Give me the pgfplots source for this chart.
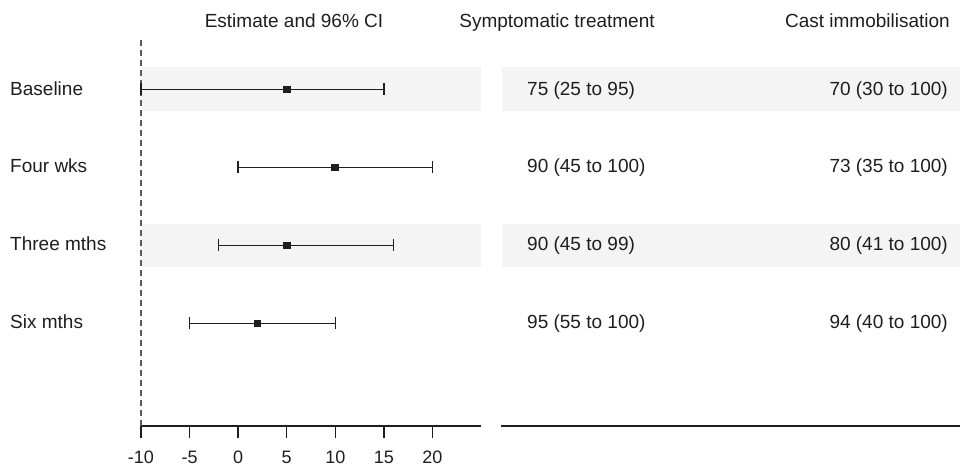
\documentclass[border=0pt]{standalone}
\usepackage{pgfplots}
\pgfplotsset{compat=1.18}
\usepackage{fontspec}
\setmainfont{Liberation Sans}
\definecolor{band}{RGB}{244,244,244}
\definecolor{ink}{RGB}{30,30,30}
\definecolor{dashc}{RGB}{90,90,90}
\begin{document}
\begin{tikzpicture}[font=\fontsize{19bp}{22bp}\selectfont]
\path[use as bounding box] (0bp,0bp) rectangle (960bp,466bp);
\begin{axis}[at={(141bp,40bp)}, anchor=south west, scale only axis,
  width=340bp, height=389bp, xmin=-10, xmax=25, ymin=-0.31410, ymax=4.67308,
  axis x line*=bottom, axis y line=none,
  xtick={-10,-5,0,5,10,15,20}, xticklabels={-10,-5,0,5,10,15,20},
  xtick align=outside, major tick length=12bp,
  x axis line style={line width=1.3bp, ink},
  every tick/.style={line width=1.3bp, ink},
  xticklabel style={font=\fontsize{18bp}{20bp}\selectfont, text=ink, anchor=base, yshift=-25bp},
  clip=false]
\fill[band] (axis cs:-10,3.718) rectangle (axis cs:25,4.282);
\fill[band] (axis cs:-10,1.718) rectangle (axis cs:25,2.282);
\addplot[dashc, line width=1.6bp, dash pattern=on 6bp off 4bp] coordinates {(-10,-0.3141) (-10,4.67308)};
\addplot[ink, line width=1.5bp, only marks, mark=square*, mark size=3.1bp,
  error bars/.cd, x dir=both, x explicit, error mark=|,
  error mark options={line width=1.4bp, mark size=6bp, ink},
  error bar style={line width=1.5bp, ink}]
  table[x=est, y=row, x error plus=ep, x error minus=em] {
row est ep em
4 5 10 15
3 10 10 10
2 5 11 7
1 2 8 7
};
\end{axis}
\begin{axis}[at={(501bp,40bp)}, anchor=south west, scale only axis,
  width=459bp, height=389bp, xmin=0, xmax=1, ymin=-0.31410, ymax=4.67308,
  axis x line*=bottom, axis y line=none, xtick=\empty,
  x axis line style={line width=1.3bp, ink}]
\fill[band] (axis cs:0.002,3.718) rectangle (axis cs:1,4.282);
\fill[band] (axis cs:0.002,1.718) rectangle (axis cs:1,2.282);
\end{axis}
% headers
\node[anchor=base, inner sep=0pt, text=ink] at (294bp,438bp) {Estimate and 96\% CI};
\node[anchor=base, inner sep=0pt, text=ink] at (557bp,438bp) {Symptomatic treatment};
\node[anchor=base east, inner sep=0pt, text=ink] at (950bp,438bp) {Cast immobilisation};
% row labels
\node[anchor=base west, inner sep=0pt, text=ink] at (10bp,370.5bp) {Baseline};
\node[anchor=base west, inner sep=0pt, text=ink] at (10bp,293.5bp) {Four wks};
\node[anchor=base west, inner sep=0pt, text=ink] at (10bp,215.5bp) {Three mths};
\node[anchor=base west, inner sep=0pt, text=ink] at (10bp,137.5bp) {Six mths};
% values
\node[anchor=base west, inner sep=0pt, text=ink] at (527bp,370.5bp) {75 (25 to 95)};
\node[anchor=base west, inner sep=0pt, text=ink] at (527bp,293.5bp) {90 (45 to 100)};
\node[anchor=base west, inner sep=0pt, text=ink] at (527bp,215.5bp) {90 (45 to 99)};
\node[anchor=base west, inner sep=0pt, text=ink] at (527bp,137.5bp) {95 (55 to 100)};
\node[anchor=base east, inner sep=0pt, text=ink] at (948bp,370.5bp) {70 (30 to 100)};
\node[anchor=base east, inner sep=0pt, text=ink] at (948bp,293.5bp) {73 (35 to 100)};
\node[anchor=base east, inner sep=0pt, text=ink] at (948bp,215.5bp) {80 (41 to 100)};
\node[anchor=base east, inner sep=0pt, text=ink] at (948bp,137.5bp) {94 (40 to 100)};
\end{tikzpicture}
\end{document}
